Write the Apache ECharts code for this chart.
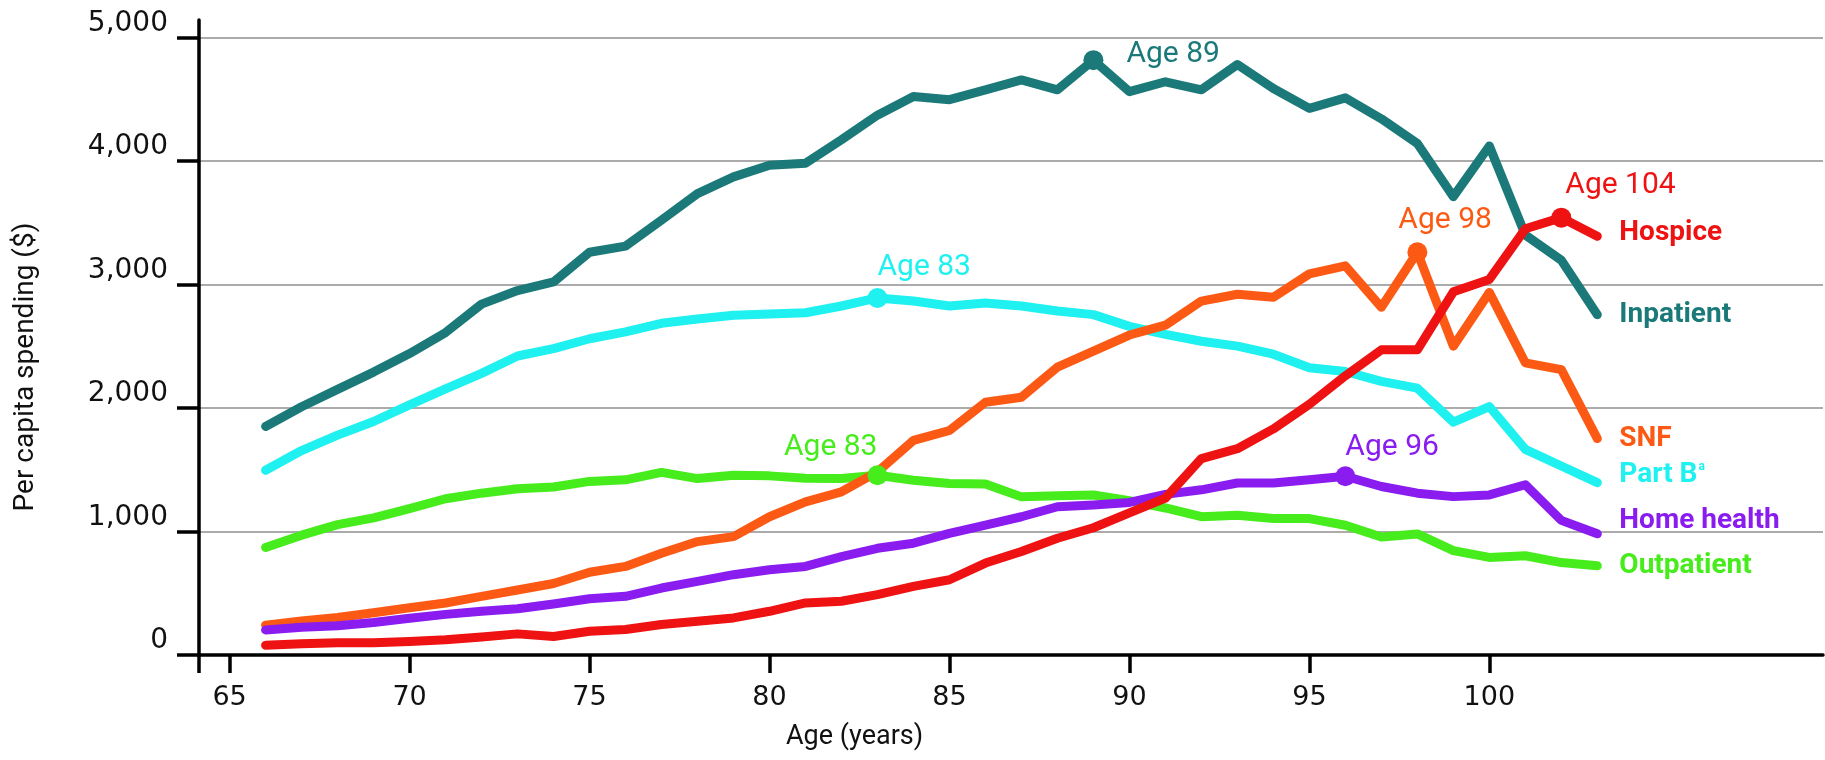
<!DOCTYPE html>
<html><head><meta charset="utf-8">
<script src="https://cdn.jsdelivr.net/npm/echarts@6/dist/echarts.min.js"></script>
<style>html,body{margin:0;padding:0;background:#fff}#c{width:1825px;height:760px}</style>
</head><body><div id="c"></div>
<script>
const ages = [66,67,68,69,70,71,72,73,74,75,76,77,78,79,80,81,82,83,84,85,86,87,88,89,90,91,92,93,94,95,96,97,98,99,100,101,102,103];
const inpatient = [1850,2010,2150,2290,2440,2610,2840,2950,3020,3260,3310,3520,3735,3870,3965,3980,4170,4370,4520,4495,4575,4655,4575,4815,4560,4640,4575,4780,4585,4425,4510,4340,4140,3710,4120,3400,3195,2755];
const partB = [1495,1655,1780,1890,2025,2155,2280,2420,2480,2560,2615,2685,2720,2750,2760,2770,2825,2890,2865,2825,2850,2825,2785,2755,2660,2595,2540,2500,2435,2325,2295,2215,2160,1885,2010,1665,1530,1395];
const outpatient = [870,970,1055,1110,1185,1265,1310,1345,1360,1405,1418,1478,1428,1455,1450,1430,1428,1455,1415,1388,1385,1280,1290,1295,1250,1190,1120,1132,1105,1104,1050,955,980,845,790,803,748,722];
const snf = [242,276,303,342,382,421,474,526,579,670,717,824,918,958,1119,1240,1321,1482,1737,1817,2046,2086,2330,2460,2590,2670,2865,2920,2895,3085,3150,2815,3260,2500,2935,2365,2310,1752];
const homeHealth = [203,224,237,263,297,329,355,374,413,455,475,542,596,650,690,717,797,864,905,985,1052,1119,1200,1215,1235,1300,1337,1392,1392,1419,1447,1364,1310,1282,1296,1378,1090,981];
const hospice = [79,92,100,100,110,124,145,171,150,192,207,247,274,300,354,421,435,489,556,609,744,838,945,1030,1150,1270,1590,1670,1830,2030,2260,2470,2470,2940,3040,3450,3540,3390];

const xTickValues = [65,70,75,80,85,90,95,100];
const yTickValues = [0,1000,2000,3000,4000,5000];

const seriesDefs = [
  {name:'Inpatient', data:inpatient, color:'#1b7a79', peakAge:89, peakText:'Age 89', lp:[33,-6], align:'left', endText:'Inpatient', endOff:[0,0]},
  {name:'Part B', data:partB, color:'#1ff0f0', peakAge:83, peakText:'Age 83', lp:[0,-30], align:'left', endText:'{m|Part B}{s|a}', endOff:[0,-8]},
  {name:'Outpatient', data:outpatient, color:'#46ec1b', peakAge:83, peakText:'Age 83', lp:[0,-28], align:'right', endText:'Outpatient', endOff:[0,0]},
  {name:'SNF', data:snf, color:'#fc5a14', peakAge:98, peakText:'Age 98', lp:[-19,-32], align:'left', endText:'SNF', endOff:[0,0]},
  {name:'Home health', data:homeHealth, color:'#8a1cf0', peakAge:96, peakText:'Age 96', lp:[0,-29], align:'left', endText:'Home health', endOff:[0,-13]},
  {name:'Hospice', data:hospice, color:'#ee1212', peakAge:102, peakText:'Age 104', lp:[4,-32], align:'left', endText:'Hospice', endOff:[0,-3]}
];

const FONT = 'Roboto, "Liberation Sans", sans-serif';
const TICKFONT = '"DejaVu Sans", sans-serif';
const DOT = 20;

const series = seriesDefs.map(d => ({
  name: d.name,
  type: 'line',
  symbol: 'none',
  showAllSymbol: true,
  lineStyle: {color: d.color, width: 9, join: 'round', cap: 'round'},
  itemStyle: {color: d.color},
  silent: true,
  z: 3,
  data: ages.map((a, i) => {
    const item = {value: [a, d.data[i]]};
    if (a === d.peakAge) {
      item.symbol = 'circle';
      item.symbolSize = DOT;
      item.label = {
        show: true, position: [DOT / 2 + d.lp[0], DOT / 2 + d.lp[1]], align: d.align, verticalAlign: 'middle',
        formatter: d.peakText, color: d.color, fontFamily: FONT, fontSize: 30
      };
    }
    return item;
  }),
  endLabel: {
    show: true, distance: 22, offset: d.endOff, formatter: d.endText,
    color: d.color, fontFamily: FONT, fontWeight: 'bold', fontSize: 28, letterSpacing: -1,
    rich: {m: {color: d.color, fontFamily: FONT, fontWeight: 'bold', fontSize: 28},
           s: {color: d.color, fontFamily: FONT, fontWeight: 'bold', fontSize: 12, verticalAlign: 'top', padding:[0,0,14,1]}}
  }
}));

const chart = echarts.init(document.getElementById('c'));
chart.setOption({
  animation: false,
  backgroundColor: '#ffffff',
  grid: {left: 199, right: 2, top: 20, bottom: 105, containLabel: false},
  xAxis: {
    type: 'value', min: 64.15, max: 109.27,
    axisLine: {show: true, lineStyle: {color: '#000', width: 3.5}},
    axisTick: {show: true, length: 18, lineStyle: {color: '#000', width: 3.5}, customValues: [64.15].concat(xTickValues)},
    axisLabel: {show: true, customValues: xTickValues, margin: 29, color: '#111', fontSize: 27, fontFamily: TICKFONT},
    splitLine: {show: false}
  },
  yAxis: {
    type: 'value', min: 0, max: 5140,
    axisLine: {show: true, lineStyle: {color: '#000', width: 3.5}},
    axisTick: {show: true, length: 22, lineStyle: {color: '#000', width: 3.5}, customValues: yTickValues},
    axisLabel: {show: true, customValues: yTickValues, margin: 31, color: '#111', fontSize: 28, verticalAlign: 'bottom',
      fontFamily: TICKFONT, formatter: v => v.toLocaleString('en-US')},
    splitLine: {show: true, lineStyle: {color: '#ababab', width: 2}}
  },
  graphic: [
    {type: 'text', left: 786, top: 724, style: {text: 'Age (years)', fill: '#111', font: '27px ' + FONT}},
    {type: 'text', x: 26, y: 367, rotation: Math.PI / 2, style: {text: 'Per capita spending ($)', fill: '#111', font: '28px ' + FONT, align: 'center', verticalAlign: 'middle'}}
  ],
  series: series
});
</script>
</body></html>
